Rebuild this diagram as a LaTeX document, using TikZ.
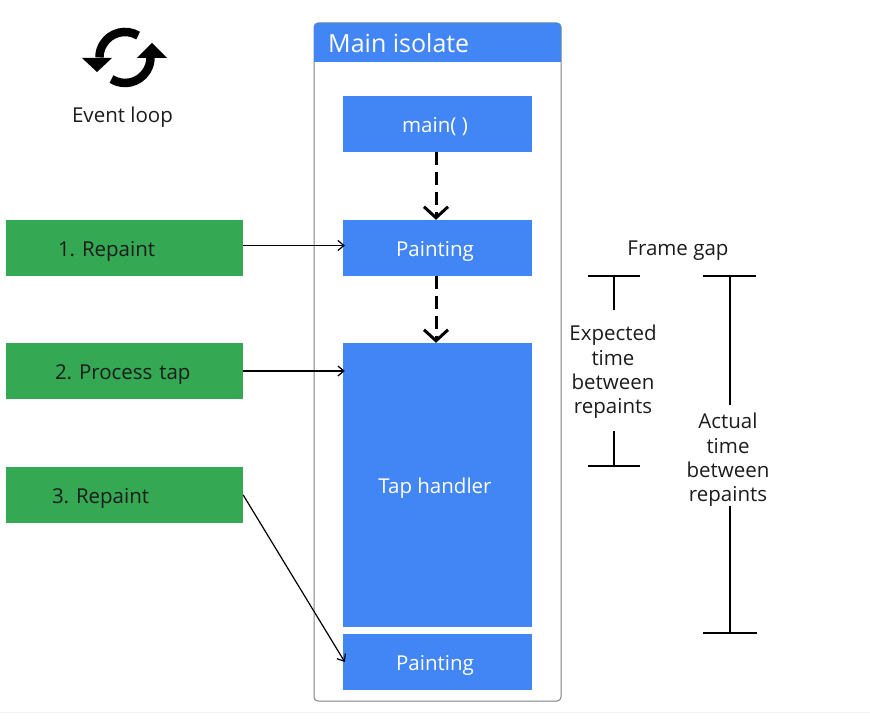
\documentclass[tikz,border=0pt]{standalone}
\usepackage{fontspec}
\setmainfont{Open Sans}
\usetikzlibrary{arrows.meta,positioning,calc}
\definecolor{isoblue}{HTML}{4285F4}
\definecolor{taskgreen}{HTML}{34A853}
\definecolor{inkgray}{HTML}{1C1C1C}
\frenchspacing

\begin{document}
\begin{tikzpicture}[x=1pt,y=-1pt,
		every node/.style={font=\fontsize{20.5}{24.4}\selectfont, text=inkgray, inner sep=0pt},
		workbox/.style={fill=isoblue, text=white, minimum width=189pt, text height=19pt, text depth=2pt, execute at begin node={\hspace*{-5pt}}},
		taskbox/.style={fill=taskgreen, minimum width=237pt, minimum height=56pt, text width=237pt, text height=19pt, text depth=2pt, align=left},
		gaplabel/.style={align=center},
		gapline/.style={line width=1.6pt, black},
		callarrow/.style={-{Straight Barb[length=6pt,width=10pt]}, line width=1.2pt, black},
		flowarrow/.style={-{Straight Barb[length=11pt,width=24pt]}, line width=3pt, black, dash pattern=on 13pt off 7pt},
		looparc/.style={line width=8.5pt, black}]
	\useasboundingbox (0,0) rectangle (870,722);
	\draw[black!5, line width=1pt] (0,712) -- (870,712);

	\draw[black!50, line width=1pt, rounded corners=4pt] (314,23) rectangle (561,701);
	\fill[isoblue] (314,62) [rounded corners=4pt] -- (314,23) -- (561,23) [sharp corners] -- (561,62) -- cycle;
	\node[anchor=west, text=white, font=\fontsize{25}{28}\selectfont] (isolate) at (328,43) {Main isolate};

	\node[workbox, minimum height=56pt] (mainfn) at (437.5,124) {main( )};
	\node[workbox, minimum height=56pt] (paintone) at (437.5,248) {Painting};
	\node[workbox, minimum height=284pt] (tap) at (437.5,485) {Tap handler};
	\node[workbox, minimum height=56pt] (painttwo) at (437.5,662) {Painting};

	\node[taskbox] (repaintone) at (124.5,248) {\hspace*{52pt}1. Repaint};
	\node[taskbox] (processtap) at (124.5,371) {\hspace*{49pt}2. Process tap};
	\node[taskbox] (repainttwo) at (124.5,495) {\hspace*{46pt}3. Repaint};

	\draw[callarrow] ([yshift=2.5pt]repaintone.east) -- ([yshift=2.5pt,xshift=2pt]paintone.west);
	\draw[callarrow] (processtap.east) -- ([xshift=2pt]tap.west |- processtap.east);
	\draw[callarrow] (repainttwo.east) -- ([xshift=2pt]painttwo.west);
	\draw[flowarrow] ([xshift=-1.5pt]mainfn.south) -- ([xshift=-1.5pt]paintone.north);
	\draw[flowarrow] ([xshift=-1.5pt]paintone.south) -- ([xshift=-1.5pt]tap.north);

	\draw[looparc] (138.1,35.6) arc[start angle=59, end angle=180, radius=25.5pt];
	\fill[black] (82,58) -- (112,58) -- (97,72) -- cycle;
	\draw[looparc] (111.5,79.1) arc[start angle=238, end angle=360, radius=25.5pt];
	\fill[black] (137,58) -- (167,58) -- (152,43) -- cycle;
	\node (loop) at (122.5,117.5) {Event loop};

	\node (gap) at (678,251) {Frame gap};
	\node[gaplabel, minimum height=121pt] (expected) at (613,372) {Expected\\time\\between\\repaints};
	\node[gaplabel, minimum height=101pt] (actual) at (728,460) {Actual\\time\\between\\repaints};
	\coordinate (exptop) at (614,276);
	\coordinate (expbot) at (614,466);
	\coordinate (acttop) at (730,276);
	\coordinate (actbot) at (730,633);
	\draw[gapline] ([yshift=1.5pt]expected.north -| exptop) -- (exptop);
	\draw[gapline] ([yshift=1.5pt]expected.south -| expbot) -- (expbot);
	\draw[gapline] ([yshift=4.5pt]actual.north -| acttop) -- (acttop);
	\draw[gapline] ([yshift=4.5pt]actual.south -| actbot) -- (actbot);
	\draw[gapline] ($(exptop)+(-26,0)$) -- ($(exptop)+(26,0)$);
	\draw[gapline] ($(expbot)+(-26,0)$) -- ($(expbot)+(26,0)$);
	\draw[gapline] ($(acttop)+(-27,0)$) -- ($(acttop)+(26,0)$);
	\draw[gapline] ($(actbot)+(-27,0)$) -- ($(actbot)+(27,0)$);
\end{tikzpicture}
\end{document}
